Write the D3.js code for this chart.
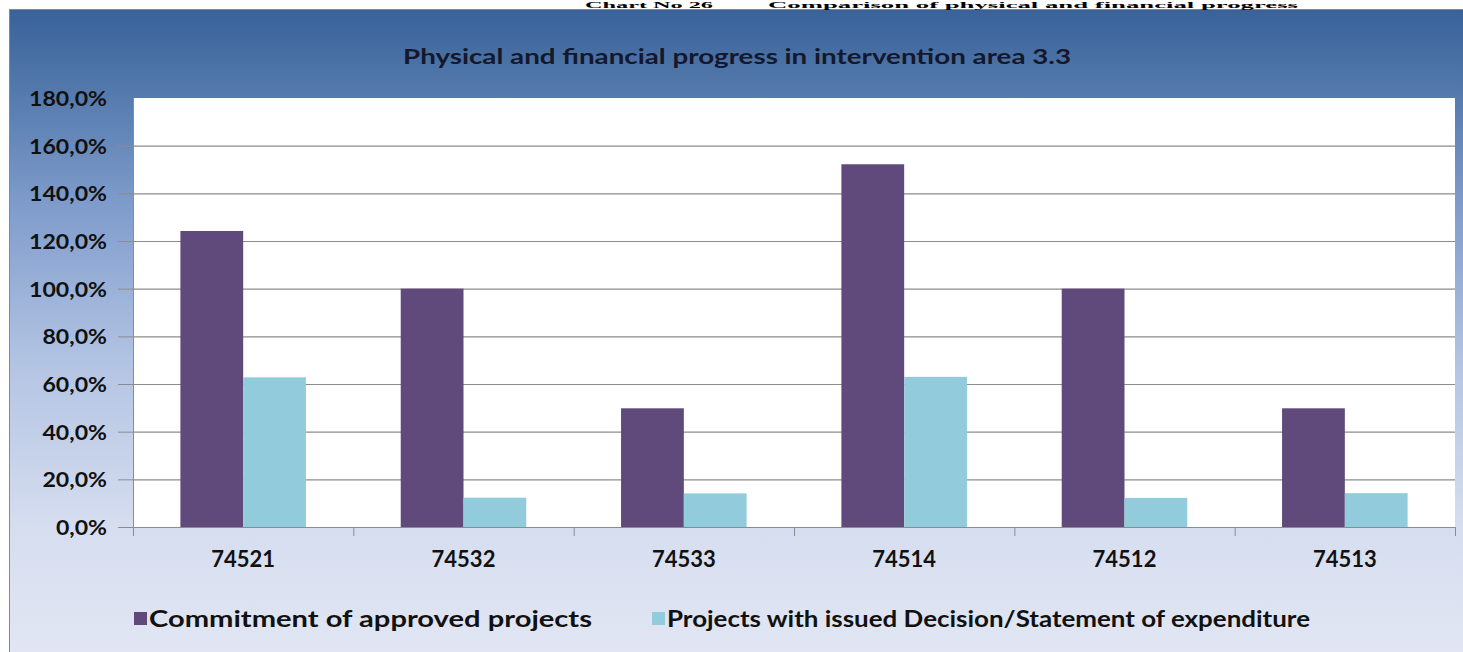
<!DOCTYPE html>
<html><head><meta charset="utf-8">
<script src="https://cdn.jsdelivr.net/npm/d3@7"></script>
<style>
html,body{margin:0;padding:0;background:#fff;}
svg{display:block;}
</style></head>
<body>
<svg id="chart" width="1463" height="652"></svg>
<script>
const categories = ["74521","74532","74533","74514","74512","74513"];
const seriesNames = ["Commitment of approved projects","Projects with issued Decision/Statement of expenditure"];
const commitment = [124.2, 100.0, 49.8, 152.2, 100.0, 49.8];
const decisions = [62.8, 12.3, 14.1, 63.0, 12.2, 14.2];
const yTicks = [0,20,40,60,80,100,120,140,160,180];
const referenceLine = 100;
const chartTitle = "Physical and financial progress in intervention area 3.3";
const captionLeft = "Chart No 26";
const captionRight = "Comparison of physical and financial progress";

const colors = ["#5f4a7b", "#92cbdc"];
const W = 1463, H = 652;
const svg = d3.select("#chart");
const defs = svg.append("defs");

const grad = defs.append("linearGradient").attr("id","bg").attr("x1",0).attr("y1",0).attr("x2",0).attr("y2",1);
[[0,"#39629a"],[0.12,"#5278ab"],[0.3,"#7e9bcb"],[0.55,"#b3c4e3"],[0.8,"#d5ddef"],[1,"#e2e6f3"]]
  .forEach(([o,c])=>grad.append("stop").attr("offset",o).attr("stop-color",c));

const shadow = defs.append("filter").attr("id","sh").attr("x","-5%").attr("y","-200%").attr("width","110%").attr("height","500%");
shadow.append("feDropShadow").attr("dx",1).attr("dy",3).attr("stdDeviation",2).attr("flood-color","#000").attr("flood-opacity",0.35);

const fontSans = "Lato, 'Open Sans', sans-serif";
const fontSerif = "'Liberation Serif','Times New Roman',serif";

// frame background
svg.append("rect").attr("x",9.5).attr("y",9.5).attr("width",W-9).attr("height",H-9)
  .attr("fill","url(#bg)").attr("stroke","#7f8a99").attr("stroke-width",1);

// caption strip above the chart frame
svg.append("text").attr("x",585).attr("y",7.5).attr("font-family",fontSerif)
  .attr("font-weight","bold").attr("font-size",8).attr("fill","#000")
  .attr("textLength",128).attr("lengthAdjust","spacingAndGlyphs").text(captionLeft);
svg.append("text").attr("x",768).attr("y",7.5).attr("font-family",fontSerif)
  .attr("font-weight","bold").attr("font-size",8).attr("fill","#000")
  .attr("textLength",530).attr("lengthAdjust","spacingAndGlyphs").text(captionRight);

function stretch(sel, target){
  sel.attr("textLength", target).attr("lengthAdjust","spacingAndGlyphs");
}
function stretchBy(sel, factor){
  sel.each(function(){
    const w = this.getComputedTextLength();
    d3.select(this).attr("textLength", w*factor).attr("lengthAdjust","spacingAndGlyphs");
  });
}

// title
const t = svg.append("text").attr("x",737).attr("y",64).attr("text-anchor","middle")
  .attr("font-family",fontSans).attr("font-weight","bold").attr("font-size",21)
  .attr("fill","#14182a").text(chartTitle);
stretch(t, 668);

// plot area
const plot = {left:133, right:1455, top:98, bottom:527};
svg.append("rect").attr("x",plot.left).attr("y",plot.top).attr("width",plot.right-plot.left)
  .attr("height",plot.bottom-plot.top).attr("fill","#fff");

const y = d3.scaleLinear().domain([0,180]).range([plot.bottom, plot.top]);
const x0 = d3.scaleBand().domain(categories).range([plot.left, plot.right]).paddingInner(0).paddingOuter(0);
const x1 = d3.scaleBand().domain([0,1]).range([0, x0.bandwidth()]).paddingInner(0).paddingOuter(0.755);

// gridlines
svg.append("g").selectAll("line").data(yTicks.filter(d=>d>0 && d<180)).join("line")
  .attr("x1",plot.left).attr("x2",plot.right).attr("y1",d=>y(d)+0.5).attr("y2",d=>y(d)+0.5)
  .attr("stroke","#8c8c8c").attr("stroke-width",1.2);

// bars
const groups = svg.append("g").selectAll("g").data(categories).join("g")
  .attr("transform",d=>`translate(${x0(d)},0)`);
groups.selectAll("rect").data((d,i)=>[commitment[i], decisions[i]]).join("rect")
  .attr("x",(d,j)=>x1(j)).attr("width",x1.bandwidth())
  .attr("y",d=>y(d)).attr("height",d=>y(0)-y(d))
  .attr("fill",(d,j)=>colors[j]);

// y axis
const yAxis = svg.append("g").attr("transform",`translate(${plot.left},0)`)
  .call(d3.axisLeft(y).tickValues(yTicks).tickSize(15).tickPadding(10)
    .tickFormat(d=>d3.format(".1f")(d).replace(".",",")+"%"));
yAxis.select(".domain").attr("stroke","#8c8c8c").attr("d",`M0.5,${plot.top}V${plot.bottom}`);
yAxis.selectAll(".tick line").attr("stroke","#8c8c8c");
yAxis.selectAll(".tick text").attr("font-family",fontSans).attr("font-weight","bold")
  .attr("font-size",21).attr("fill","#111").attr("dx",-1).attr("dy","0.36em");
stretchBy(yAxis.selectAll(".tick text"), 1.1);
yAxis.selectAll(".tick").filter(d=>d===180).select("line").remove();

// x axis
const xAxis = svg.append("g").attr("transform",`translate(0,${plot.bottom})`)
  .call(d3.axisBottom(x0).tickSize(0).tickPadding(24));
xAxis.select(".domain").attr("stroke","#8c8c8c");
xAxis.selectAll(".tick text").attr("font-family",fontSans).attr("font-weight","bold")
  .attr("font-size",22).attr("fill","#111");
xAxis.selectAll("line.sep").data(categories.map(c=>x0(c)).concat([plot.right])).join("line")
  .attr("class","sep").attr("x1",d=>d+0.5).attr("x2",d=>d+0.5).attr("y1",0).attr("y2",9)
  .attr("stroke","#8c8c8c");

// 100% reference line
svg.append("line").attr("x1",118).attr("x2",1449).attr("y1",y(referenceLine)).attr("y2",y(referenceLine))
  .attr("stroke","#000").attr("stroke-width",4).attr("filter","url(#sh)");

// legend
const legendItems = [{sx:134, tx:149, w:443},{sx:652, tx:667, w:643}];
legendItems.forEach((it,i)=>{
  svg.append("rect").attr("x",it.sx).attr("y",612).attr("width",13).attr("height",13).attr("fill",colors[i]);
  const lt = svg.append("text").attr("x",it.tx).attr("y",627).attr("font-family",fontSans)
    .attr("font-weight","bold").attr("font-size",22).attr("fill","#111").text(seriesNames[i]);
  stretch(lt, it.w);
});
</script>
</body></html>
